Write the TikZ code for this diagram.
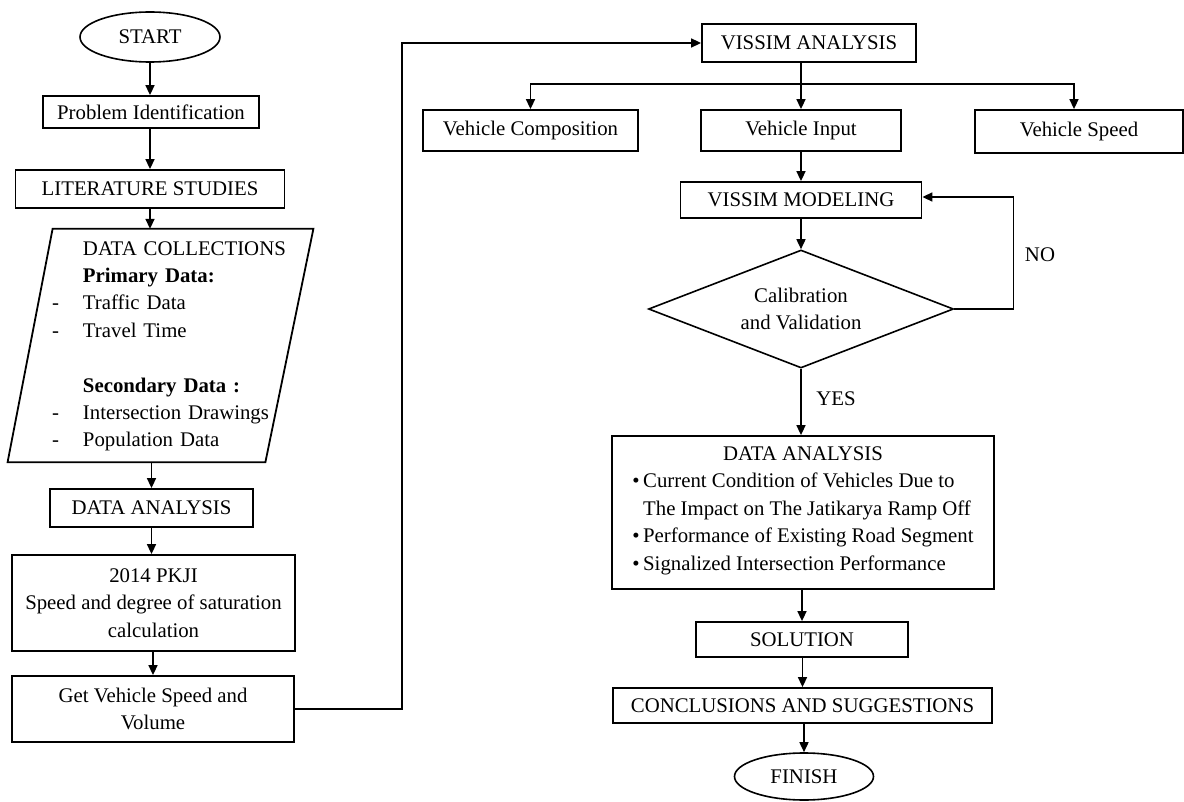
\documentclass[tikz,border=0pt]{standalone}
\usepackage{fontspec}
\setmainfont{Liberation Serif}
\usepackage{tikz}
\usetikzlibrary{shapes.geometric, arrows.meta, positioning, calc}

\begin{document}
\begin{tikzpicture}[
        x=0.5pt, y=-0.5pt,
        font=\fontsize{10.4}{13.7}\selectfont,
        box/.style={draw, line width=0.9pt, align=center, inner sep=1pt},
        term/.style={draw, ellipse, line width=0.8pt, inner sep=0pt},
        decision/.style={draw, diamond, line width=0.8pt, align=center,
                    inner sep=0pt, aspect=2.6},
        lbl/.style={inner sep=1pt},
        arr/.style={-{Triangle[length=5pt, width=4.5pt]}, line width=0.8pt}
    ]
        \useasboundingbox (0,0) rectangle (1184,802);

        % left column
        \node[term, minimum width=70pt, minimum height=25pt] (start) at (150,37) {START};
        \node[box, minimum width=108pt, minimum height=16pt] (probid) at (151,112) {Problem Identification};
        \node[box, minimum width=134.5pt, minimum height=19pt] (lit) at (150,189) {LITERATURE STUDIES};
        \node[minimum width=152.5pt, minimum height=112.5pt, inner xsep=22pt,
              text width=108.5pt, align=left] (collect) at (160.5,345.5) {%
            \begin{tabular}{@{}p{15.5pt}@{}l@{}}
                & DATA COLLECTIONS\\
                & \textbf{Primary Data:}\\
              - & Traffic Data\\
              - & Travel Time\\
                & \\
                & \textbf{Secondary Data :}\\
              - & Intersection Drawings\\
              - & Population Data
            \end{tabular}};
        \draw[line width=0.9pt] ([xshift=22.5pt]collect.north west) -- (collect.north east)
            -- ([xshift=-24pt]collect.south east) -- (collect.south west) -- cycle;
        \node[box, minimum width=101.5pt, minimum height=19pt] (dataana) at (151.5,508) {DATA ANALYSIS};
        \node[box, minimum width=141.5pt, minimum height=48pt] (pkji) at (153.5,603)
            {2014 PKJI\\Speed and degree of saturation\\calculation};
        \node[box, minimum width=141pt, minimum height=33pt] (getspeed) at (153,709)
            {Get Vehicle Speed and\\Volume};

        % right column
        \node[box, minimum width=107pt, minimum height=19pt] (vissana) at (809,43) {VISSIM ANALYSIS};
        \node[box, minimum width=107.5pt, minimum height=20.5pt] (vcomp) at (530.5,130.5) {Vehicle Composition};
        \node[box, minimum width=100pt, minimum height=20.5pt] (vinput) at (801,130.5) {Vehicle Input};
        \node[box, minimum width=104pt, minimum height=21.5pt] (vspeed) at (1079,131.5) {Vehicle Speed};
        \node[box, minimum width=120.5pt, minimum height=18pt] (vmodel) at (801,200) {VISSIM MODELING};
        \node[decision, minimum width=152.5pt, minimum height=59pt] (calib) at (801,309)
            {Calibration\\and Validation};
        \node[box, minimum width=191pt, minimum height=76.5pt] (analysis) at (803,512.5) {%
            DATA ANALYSIS\\
            \begin{tabular}[t]{@{}l@{}l@{}}
                \textbullet\, & Current Condition of Vehicles Due to\\
                            & The Impact on The Jatikarya Ramp Off\\
                \textbullet\, & Performance of Existing Road Segment\\
                \textbullet\, & Signalized Intersection Performance
            \end{tabular}};
        \node[box, minimum width=106pt, minimum height=17.5pt] (solution) at (802,639.5) {SOLUTION};
        \node[box, minimum width=189.5pt, minimum height=17.5pt] (concl) at (802.5,705.5)
            {CONCLUSIONS AND SUGGESTIONS};
        \node[term, minimum width=69.5pt, minimum height=23.5pt] (finish) at (804,776.5) {FINISH};

        \node[lbl] (nolbl) at (1040,255) {NO};
        \node[lbl] (yeslbl) at (836,399) {YES};
        \coordinate (split) at (801,84);

        \draw[arr] (start.south) -- (start.south |- probid.north);
        \draw[arr] (probid.south -| lit.north) -- (lit.north);
        \draw[arr] (lit.south) -- (lit.south |- collect.north);
        \draw[arr] (collect.south -| dataana.north) -- (dataana.north);
        \draw[arr] (dataana.south) -- (dataana.south |- pkji.north);
        \draw[arr] (pkji.south -| getspeed.north) -- (getspeed.north);
        \draw[arr] (getspeed.east) -- ++(53.5pt,0) |- (vissana.west);

        \draw[line width=0.8pt] (vinput.north |- vissana.south) -- (split);
        \draw[arr] (split) -- (vinput.north);
        \draw[arr] (split) -| (vcomp.north);
        \draw[arr] (split) -| ([xshift=-2.5pt]vspeed.north);
        \draw[arr] (vinput) -- (vmodel);
        \draw[arr] (vmodel) -- (calib);
        \draw[arr] (calib.east) -- ++(29.5pt,0) |- ([yshift=1.5pt]vmodel.east);
        \draw[arr] (calib.south) -- (calib.south |- analysis.north);
        \draw[arr] (analysis.south -| solution.north) -- (solution.north);
        \draw[arr] (solution.south -| concl.north) -- (concl.north);
        \draw[arr] (concl.south -| finish.north) -- (finish.north);
    \end{tikzpicture}
\end{document}
